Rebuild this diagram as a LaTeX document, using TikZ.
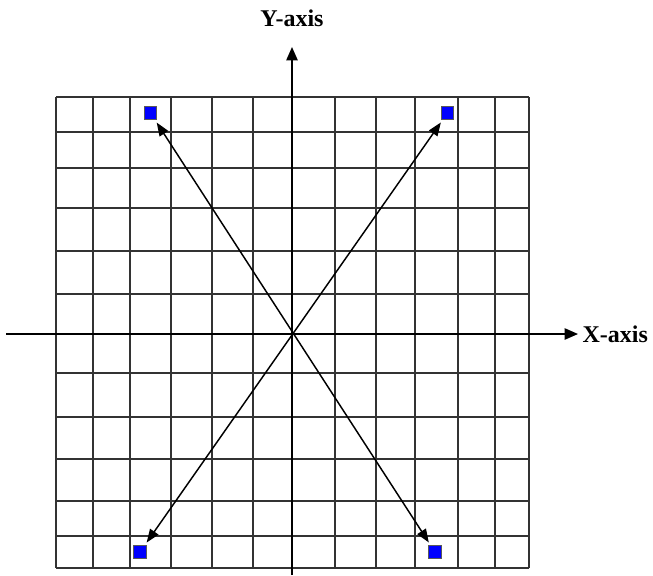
\documentclass[tikz,border=0pt]{standalone}
\usepackage{fontspec}
\setmainfont{Liberation Serif}
\usetikzlibrary{arrows.meta}
\begin{document}
\begin{tikzpicture}[x=0.75pt,y=-0.75pt,
  gridline/.style={draw=black!80,line width=1.1pt},
  axisline/.style={draw=black,line width=1.1pt,-{Triangle[length=10pt,width=8.5pt]}},
  ptbox/.style={draw=black!65,fill=blue,line width=0.6pt,minimum size=9.5pt,inner sep=0pt},
  vecline/.style={draw=black,line width=1.1pt,{Triangle[length=10pt,width=7.5pt]}-{Triangle[length=10pt,width=7.5pt]},shorten <=2.5pt,shorten >=2.5pt},
  axislabel/.style={font=\bfseries\fontsize{18}{20}\selectfont,inner sep=1pt}]
\useasboundingbox (0,0) rectangle (653,575);
% grid
\foreach \gx in {56,93,130,171,212,253,292,335,376,415,458,495,529}
  \draw[gridline] (\gx,97) -- (\gx,568);
\foreach \gy in {97,132,168,208,251,294,334,373,417,459,501,536,568}
  \draw[gridline] (56,\gy) -- (529,\gy);
% axes
\coordinate (ybot) at (292,575);
\coordinate (ytop) at (292,47);
\coordinate (xleft) at (6,334);
\coordinate (xright) at (578,334);
\draw[axisline] (ybot) -- (ytop);
\draw[axisline] (xleft) -- (xright);
\node[axislabel] (ylabel) at (292,18) {Y-axis};
\node[axislabel,anchor=west] (xlabel) at (581,334) {X-axis};
% points
\node[ptbox] (tl) at (150.5,113) {};
\node[ptbox] (tr) at (447.5,113) {};
\node[ptbox] (bl) at (140,552) {};
\node[ptbox] (br) at (435,552) {};
\draw[vecline] (tl) -- (br);
\draw[vecline] (tr) -- (bl);
\end{tikzpicture}
\end{document}
